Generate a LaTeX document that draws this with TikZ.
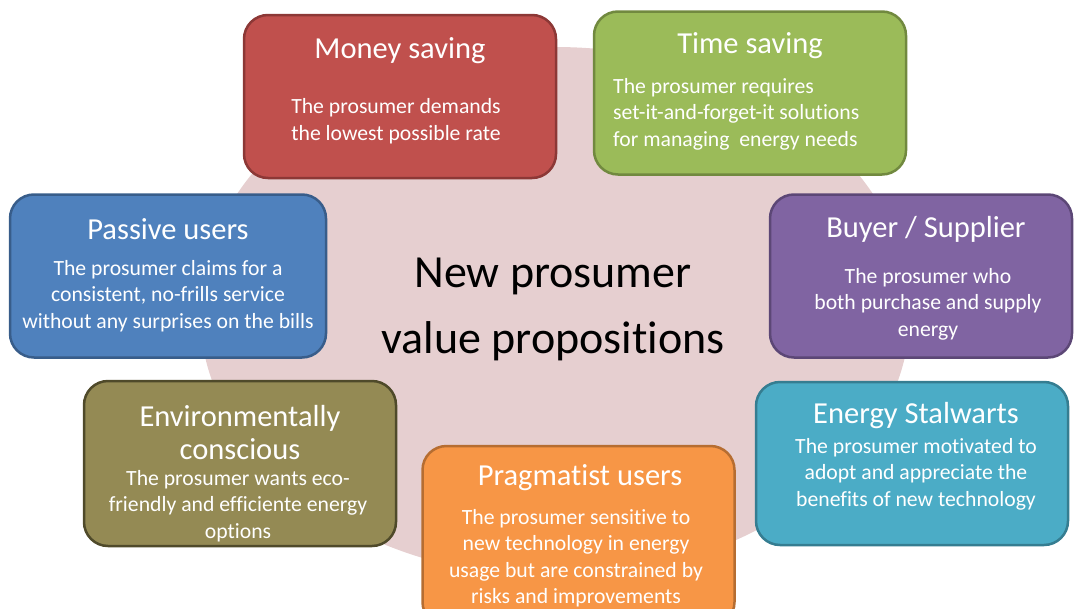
\documentclass[tikz,border=0pt]{standalone}
\usepackage{fontspec}
\setmainfont{Carlito}[Ligatures=NoCommon]
\usepackage{tikz}

\definecolor{bgpink}{HTML}{E6CFD0}
\definecolor{moneyfill}{HTML}{C0504D}
\definecolor{moneyline}{HTML}{8C3836}
\definecolor{timefill}{HTML}{9BBB59}
\definecolor{timeline}{HTML}{71893F}
\definecolor{passivefill}{HTML}{4F81BD}
\definecolor{passiveline}{HTML}{385D8A}
\definecolor{buyerfill}{HTML}{8064A2}
\definecolor{buyerline}{HTML}{5C4776}
\definecolor{envfill}{HTML}{948A54}
\definecolor{envline}{HTML}{4F4A2A}
\definecolor{pragfill}{HTML}{F79646}
\definecolor{pragline}{HTML}{B66D31}
\definecolor{stalfill}{HTML}{4BACC6}
\definecolor{stalline}{HTML}{357D91}

\begin{document}
\begin{tikzpicture}[x=1pt, y=-1pt,
    card/.style={rounded corners=24pt, line width=2.5pt, minimum width=312pt,
        minimum height=163pt, inner sep=0pt},
    cardtitle/.style={text=white, font=\fontsize{30.5}{33}\selectfont, align=center, inner sep=0pt},
    cardbody/.style={text=white, font=\fontsize{21.7}{26.5}\selectfont, align=center, inner sep=0pt}]
    \useasboundingbox (0,0) rectangle (1074,608);
    % background
    \fill[bgpink] (555,312) ellipse (355 and 265);
    % cards
    \node[card, fill=moneyfill, draw=moneyline] (money) at (400,96.5) {};
    \node[card, fill=timefill, draw=timeline] (time) at (750,93) {};
    \node[card, fill=passivefill, draw=passiveline, minimum width=316pt] (passive) at (168,276) {};
    \node[card, fill=buyerfill, draw=buyerline, minimum width=302pt] (buyer) at (921,276) {};
    \node[card, fill=envfill, draw=envline, minimum height=165pt] (env) at (240,463.5) {};
    \node[card, fill=pragfill, draw=pragline, minimum height=180pt] (prag) at (578.5,536) {};
    \node[card, fill=stalfill, draw=stalline] (stal) at (912,463.5) {};
    % titles
    \node[cardtitle] (moneytitle) at (400,51) {Money saving};
    \node[cardtitle] (timetitle) at (750,46) {Time saving};
    \node[cardtitle] (passivetitle) at (168,229) {Passive users};
    \node[cardtitle] (buyertitle) at (926,229) {Buyer / Supplier};
    \node[cardtitle] (envtitle) at (240,432.5) {Environmentally\\conscious};
    \node[cardtitle] (pragtitle) at (580,478) {Pragmatist users};
    \node[cardtitle] (staltitle) at (916,416) {Energy Stalwarts};
    % descriptions
    \node[cardbody] (moneytext) at (396,121) {The prosumer demands\\the lowest possible rate};
    \node[cardbody, align=left, anchor=west] (timetext) at (613,114)
        {The prosumer requires\\set-it-and-forget-it solutions\\for managing~ energy needs};
    \node[cardbody] (passivetext) at (168,296)
        {The prosumer claims for a\\consistent, no-frills service\\without any surprises on the bills};
    \node[cardbody] (buyertext) at (928,304) {The prosumer who\\both purchase and supply\\energy};
    \node[cardbody] (envtext) at (238,506) {The prosumer wants eco-\\friendly and efficiente energy\\options};
    \node[cardbody] (pragtext) at (576,558)
        {The prosumer sensitive to\\new technology in energy\\usage but are constrained by\\risks and improvements};
    \node[cardbody] (staltext) at (916,474)
        {The prosumer motivated to\\adopt and appreciate the\\benefits of new technology};
    % centre
    \node[font=\fontsize{46}{66}\selectfont, align=center, inner sep=0pt] (centre) at (553,309.5)
        {New prosumer\\value propositions};
\end{tikzpicture}
\end{document}
